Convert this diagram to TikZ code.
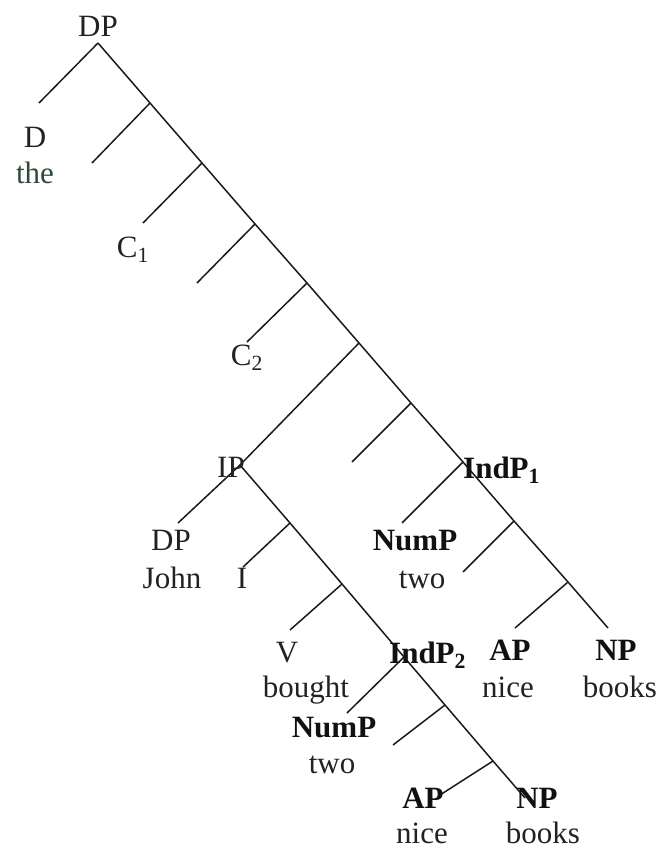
\documentclass[tikz,border=0pt]{standalone}
\usepackage{fontspec}
\setmainfont{Liberation Serif}
\definecolor{txt}{HTML}{222222}
\definecolor{btxt}{HTML}{111111}
\definecolor{thegreen}{HTML}{2E4A36}
\definecolor{ln}{HTML}{1A1A1A}
\begin{document}
\begin{tikzpicture}[x=1pt,y=-1pt,
  lbl/.style={anchor=base, inner sep=0pt, font=\fontsize{31}{37}\selectfont, text=txt},
  blbl/.style={anchor=base, inner sep=0pt, font=\fontsize{31}{37}\selectfont\bfseries, text=btxt},
  edge/.style={draw=ln, line width=1.5pt}]
\useasboundingbox (0,0) rectangle (669,848);
% upper spine
\coordinate (p0) at (98,43);
\coordinate (p1) at (150,103);
\coordinate (p2) at (202,163);
\coordinate (p3) at (255,224);
\coordinate (p4) at (307,283);
\coordinate (p5) at (359,343);
\coordinate (p6) at (411,403);
\coordinate (p7) at (463,462);
\coordinate (p8) at (514,521);
\coordinate (p9) at (568,582);
\coordinate (e1) at (608,628);
% upper branches
\coordinate (b0) at (39,103);
\coordinate (b1) at (92,163);
\coordinate (b2) at (143,223);
\coordinate (b3) at (197,283);
\coordinate (b4) at (247,342);
\coordinate (ip) at (240,465);
\coordinate (b6) at (352,462);
\coordinate (b7) at (402,523);
\coordinate (b8) at (463,572);
\coordinate (b9) at (515,628);
% lower spine
\coordinate (q1) at (290,523);
\coordinate (q2) at (342,584);
\coordinate (q3) at (404,657);
\coordinate (q4) at (445,705);
\coordinate (q5) at (493,761);
\coordinate (e2) at (525,798);
% lower branches
\coordinate (c0) at (178,523);
\coordinate (c1) at (243,567);
\coordinate (c2) at (290,630);
\coordinate (c3) at (347,713);
\coordinate (c4) at (393,745);
\coordinate (c5) at (440,795);

\draw[edge] (p0) -- (p1) -- (p2) -- (p3) -- (p4) -- (p5) -- (p6) -- (p7) -- (p8) -- (p9) -- (e1);
\draw[edge] (p0) -- (b0);
\draw[edge] (p1) -- (b1);
\draw[edge] (p2) -- (b2);
\draw[edge] (p3) -- (b3);
\draw[edge] (p4) -- (b4);
\draw[edge] (p5) -- (ip);
\draw[edge] (p6) -- (b6);
\draw[edge] (p7) -- (b7);
\draw[edge] (p8) -- (b8);
\draw[edge] (p9) -- (b9);
\draw[edge] (ip) -- (q1) -- (q2) -- (q3) -- (q4) -- (q5) -- (e2);
\draw[edge] (ip) -- (c0);
\draw[edge] (q1) -- (c1);
\draw[edge] (q2) -- (c2);
\draw[edge] (q3) -- (c3);
\draw[edge] (q4) -- (c4);
\draw[edge] (q5) -- (c5);

% labels
\node[lbl] (tDP) at (98,37) {DP};
\node[lbl] (tD) at (35,147) {D};
\node[lbl, text=thegreen] (tthe) at (35,183) {the};
\node[lbl] (tC1) at (133,257) {C\textsubscript{1}};
\node[lbl] (tC2) at (247,365) {C\textsubscript{2}};
\node[lbl] (tIP) at (231,477) {IP};
\node[lbl] (tDP2) at (171,550) {DP};
\node[lbl] (tJohn) at (172,588) {John};
\node[lbl] (tI) at (242,588) {I};
\node[blbl, anchor=base west] (tIndP1) at (463,478) {IndP\textsubscript{1}};
\node[blbl] (tNumP1) at (415,550) {NumP};
\node[lbl] (ttwo1) at (422,588) {two};
\node[blbl] (tAP1) at (510,660) {AP};
\node[lbl] (tnice1) at (508,697) {nice};
\node[blbl] (tNP1) at (616,660) {NP};
\node[lbl] (tbooks1) at (620,697) {books};
\node[lbl] (tV) at (287,662) {V};
\node[lbl] (tbought) at (306,697) {bought};
\node[blbl, anchor=base west] (tIndP2) at (389,663) {IndP\textsubscript{2}};
\node[blbl] (tNumP2) at (334,737) {NumP};
\node[lbl] (ttwo2) at (332,773) {two};
\node[blbl] (tAP2) at (423,808) {AP};
\node[lbl] (tnice2) at (422,843) {nice};
\node[blbl] (tNP2) at (537,808) {NP};
\node[lbl] (tbooks2) at (543,843) {books};
\end{tikzpicture}
\end{document}
